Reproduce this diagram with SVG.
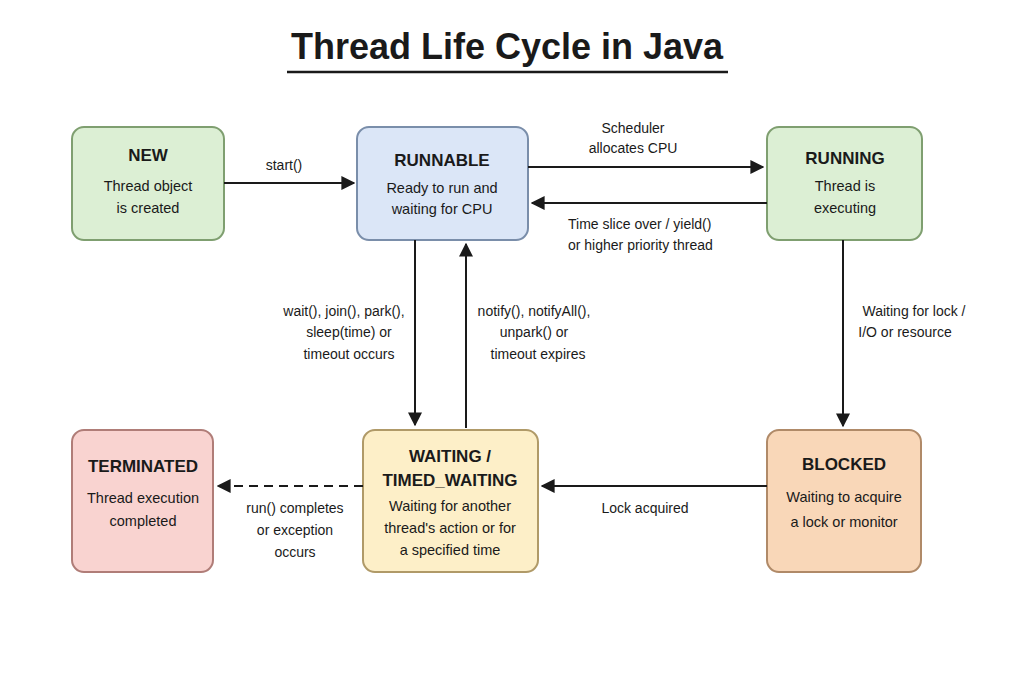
<svg xmlns="http://www.w3.org/2000/svg" width="1024" height="683" viewBox="0 0 1024 683">
<style>
text{font-family:"Liberation Sans",Arial,sans-serif;fill:#1a1a1a}
.t{font-size:17px;font-weight:bold;text-anchor:middle}
.d{font-size:14.5px;text-anchor:middle}
.l{font-size:14px;text-anchor:middle}
.box{stroke-width:2}
.c{stroke:#1a1a1a;stroke-width:2;fill:none;marker-end:url(#a)}
</style>
<defs><marker id="a" viewBox="0 0 10 10" refX="9" refY="5" markerWidth="7" markerHeight="7" orient="auto"><path d="M0,0L10,5L0,10z" fill="#1a1a1a"/></marker></defs>
<rect width="1024" height="683" fill="#fff"/>
<text x="507" y="59" style="font-size:36px;font-weight:bold;text-anchor:middle">Thread Life Cycle in Java</text>
<line x1="287" y1="72" x2="728" y2="72" stroke="#1a1a1a" stroke-width="2.5"/>
<g id="new"><rect class="box" x="72" y="127" width="152" height="113" rx="12" fill="#dcefd4" stroke="#7f9f70"/><text class="t" x="148" y="161">NEW</text><text class="d" x="148" y="191">Thread object</text><text class="d" x="148" y="213">is created</text></g>
<g id="runnable"><rect class="box" x="357" y="127" width="171" height="113" rx="12" fill="#dbe6f7" stroke="#7a8eaa"/><text class="t" x="442" y="166">RUNNABLE</text><text class="d" x="442" y="193">Ready to run and</text><text class="d" x="442" y="214">waiting for CPU</text></g>
<g id="running"><rect class="box" x="767" y="127" width="155" height="113" rx="12" fill="#dcefd4" stroke="#7f9f70"/><text class="t" x="845" y="164">RUNNING</text><text class="d" x="845" y="191">Thread is</text><text class="d" x="845" y="213">executing</text></g>
<g id="terminated"><rect class="box" x="72" y="430" width="141" height="142" rx="12" fill="#f9d3d0" stroke="#b07d78"/><text class="t" x="143" y="472">TERMINATED</text><text class="d" x="143" y="503">Thread execution</text><text class="d" x="143" y="526">completed</text></g>
<g id="waiting"><rect class="box" x="363" y="430" width="175" height="142" rx="12" fill="#fdefc8" stroke="#b09a68"/><text class="t" x="450" y="462">WAITING /</text><text class="t" x="450" y="486">TIMED_WAITING</text><text class="d" x="450" y="511">Waiting for another</text><text class="d" x="450" y="533">thread's action or for</text><text class="d" x="450" y="555">a specified time</text></g>
<g id="blocked"><rect class="box" x="767" y="430" width="154" height="142" rx="12" fill="#f9d7b8" stroke="#b08a68"/><text class="t" x="844" y="470">BLOCKED</text><text class="d" x="844" y="502">Waiting to acquire</text><text class="d" x="844" y="527">a lock or monitor</text></g>
<g id="connectors">
<line class="c" x1="224" y1="183" x2="354" y2="183"/>
<line class="c" x1="528" y1="167" x2="763" y2="167"/>
<line class="c" x1="767" y1="203" x2="532" y2="203"/>
<line class="c" x1="415" y1="240" x2="415" y2="425"/>
<line class="c" x1="466" y1="428" x2="466" y2="244"/>
<line class="c" x1="843" y1="240" x2="843" y2="426"/>
<line class="c" x1="767" y1="486" x2="542" y2="486"/>
<line class="c" x1="363" y1="486" x2="218" y2="486" stroke-dasharray="9,6"/>
</g>
<g id="labels">
<text class="l" x="284" y="170">start()</text>
<text class="l" x="633" y="133">Scheduler</text><text class="l" x="633" y="153">allocates CPU</text>
<text class="l" x="568" y="229" style="text-anchor:start">Time slice over / yield()</text><text class="l" x="568" y="250" style="text-anchor:start">or higher priority thread</text>
<text class="l" x="344" y="316">wait(), join(), park(),</text><text class="l" x="349" y="337">sleep(time) or</text><text class="l" x="349" y="359">timeout occurs</text>
<text class="l" x="534" y="316">notify(), notifyAll(),</text><text class="l" x="534" y="337">unpark() or</text><text class="l" x="538" y="359">timeout expires</text>
<text class="l" x="914" y="316">Waiting for lock /</text><text class="l" x="905" y="337">I/O or resource</text>
<text class="l" x="645" y="513">Lock acquired</text>
<text class="l" x="295" y="513">run() completes</text><text class="l" x="295" y="535">or exception</text><text class="l" x="295" y="557">occurs</text>
</g>
</svg>
